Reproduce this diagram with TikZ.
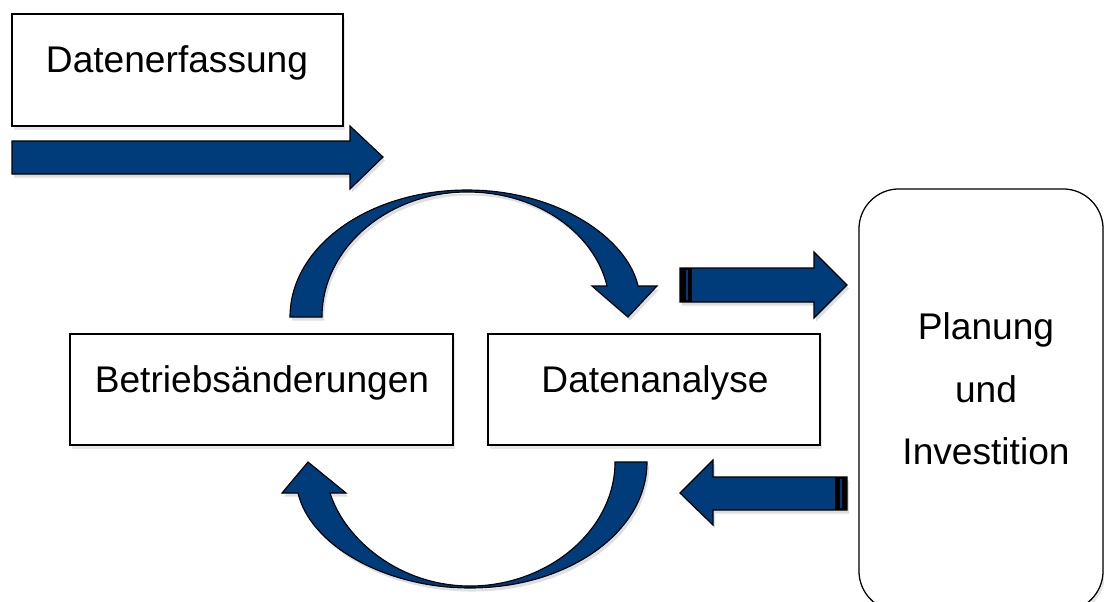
\documentclass[tikz,border=0pt]{standalone}
\usepackage{fontspec}
\setmainfont{Liberation Sans}
\usetikzlibrary{shadows}

\definecolor{arrowblue}{RGB}{0,59,122}

\begin{document}
\begin{tikzpicture}[x=0.025cm,y=-0.025cm]
  \tikzstyle{box}=[draw=black, fill=white, line width=0.9pt,
    drop shadow={opacity=0.2, shadow xshift=1.5pt, shadow yshift=-2.5pt}]
  \tikzstyle{blockarrow}=[draw=black, fill=arrowblue, line width=0.8pt, line join=miter,
    drop shadow={opacity=0.25, shadow xshift=1.5pt, shadow yshift=-2.5pt}]
  \tikzstyle{boxtext}=[font=\fontsize{26.4pt}{44.3pt}\selectfont, align=center, inner sep=0pt]

    \useasboundingbox (0,0) rectangle (1104,601);
    \clip (0,0) rectangle (1104,601);

    % boxes
    \node[box, minimum width=8.275cm, minimum height=2.8cm] (erf) at (177.5,70) {};
    \node[boxtext] (erftext) at (177,63) {Datenerfassung};
    \node[box, minimum width=9.575cm, minimum height=2.775cm] (betr) at (261.5,389.5) {};
    \node[boxtext] (betrtext) at (262,383) {Betriebsänderungen};
    \node[box, minimum width=8.3cm, minimum height=2.775cm] (anal) at (654,389.5) {};
    \node[boxtext] (analtext) at (655,383) {Datenanalyse};
    \node[box, rounded corners=1cm, minimum width=6.1cm, minimum height=10.55cm] (plan) at (981,400) {};
    \node[boxtext] (plantext) at (986,389) {Planung\\und\\Investition};

    % straight arrows
    \draw[blockarrow] (12,141) -- (350,141) -- (350,126) -- (383,157) -- (350,189)
      -- (350,174) -- (12,174) -- cycle;
    \draw[blockarrow] (680,268) -- (814,268) -- (814,252) -- (847,285) -- (814,318)
      -- (814,302) -- (680,302) -- cycle;
    \fill[black] (680,268) rectangle (692,302);
    \fill[arrowblue] (686,270) rectangle (688,300);
    \draw[blockarrow] (847,477) -- (713,477) -- (713,460) -- (680,493) -- (713,525)
      -- (713,510) -- (847,510) -- cycle;
    \fill[black] (835,477) rectangle (847,510);
    \fill[arrowblue] (840,479) rectangle (842,508);

    % curved arrows
    \draw[blockarrow] (290,317) .. controls (290,247) and (368,190) .. (467,190)
      .. controls (560,190) and (628,240) .. (638,286) -- (657,286) -- (628,317)
      -- (592,286) -- (607,286) .. controls (595,235) and (540,192) .. (467,192)
      .. controls (388,192) and (322,248) .. (322,317) -- cycle;
    \draw[blockarrow] (647,462) .. controls (647,532) and (568,588) .. (470,588)
      .. controls (385,588) and (310,545) .. (298,493) -- (282,493) -- (308,462)
      -- (346,493) -- (330,493) .. controls (345,540) and (400,586) .. (470,586)
      .. controls (548,586) and (615,530) .. (615,462) -- cycle;

\end{tikzpicture}
\end{document}
